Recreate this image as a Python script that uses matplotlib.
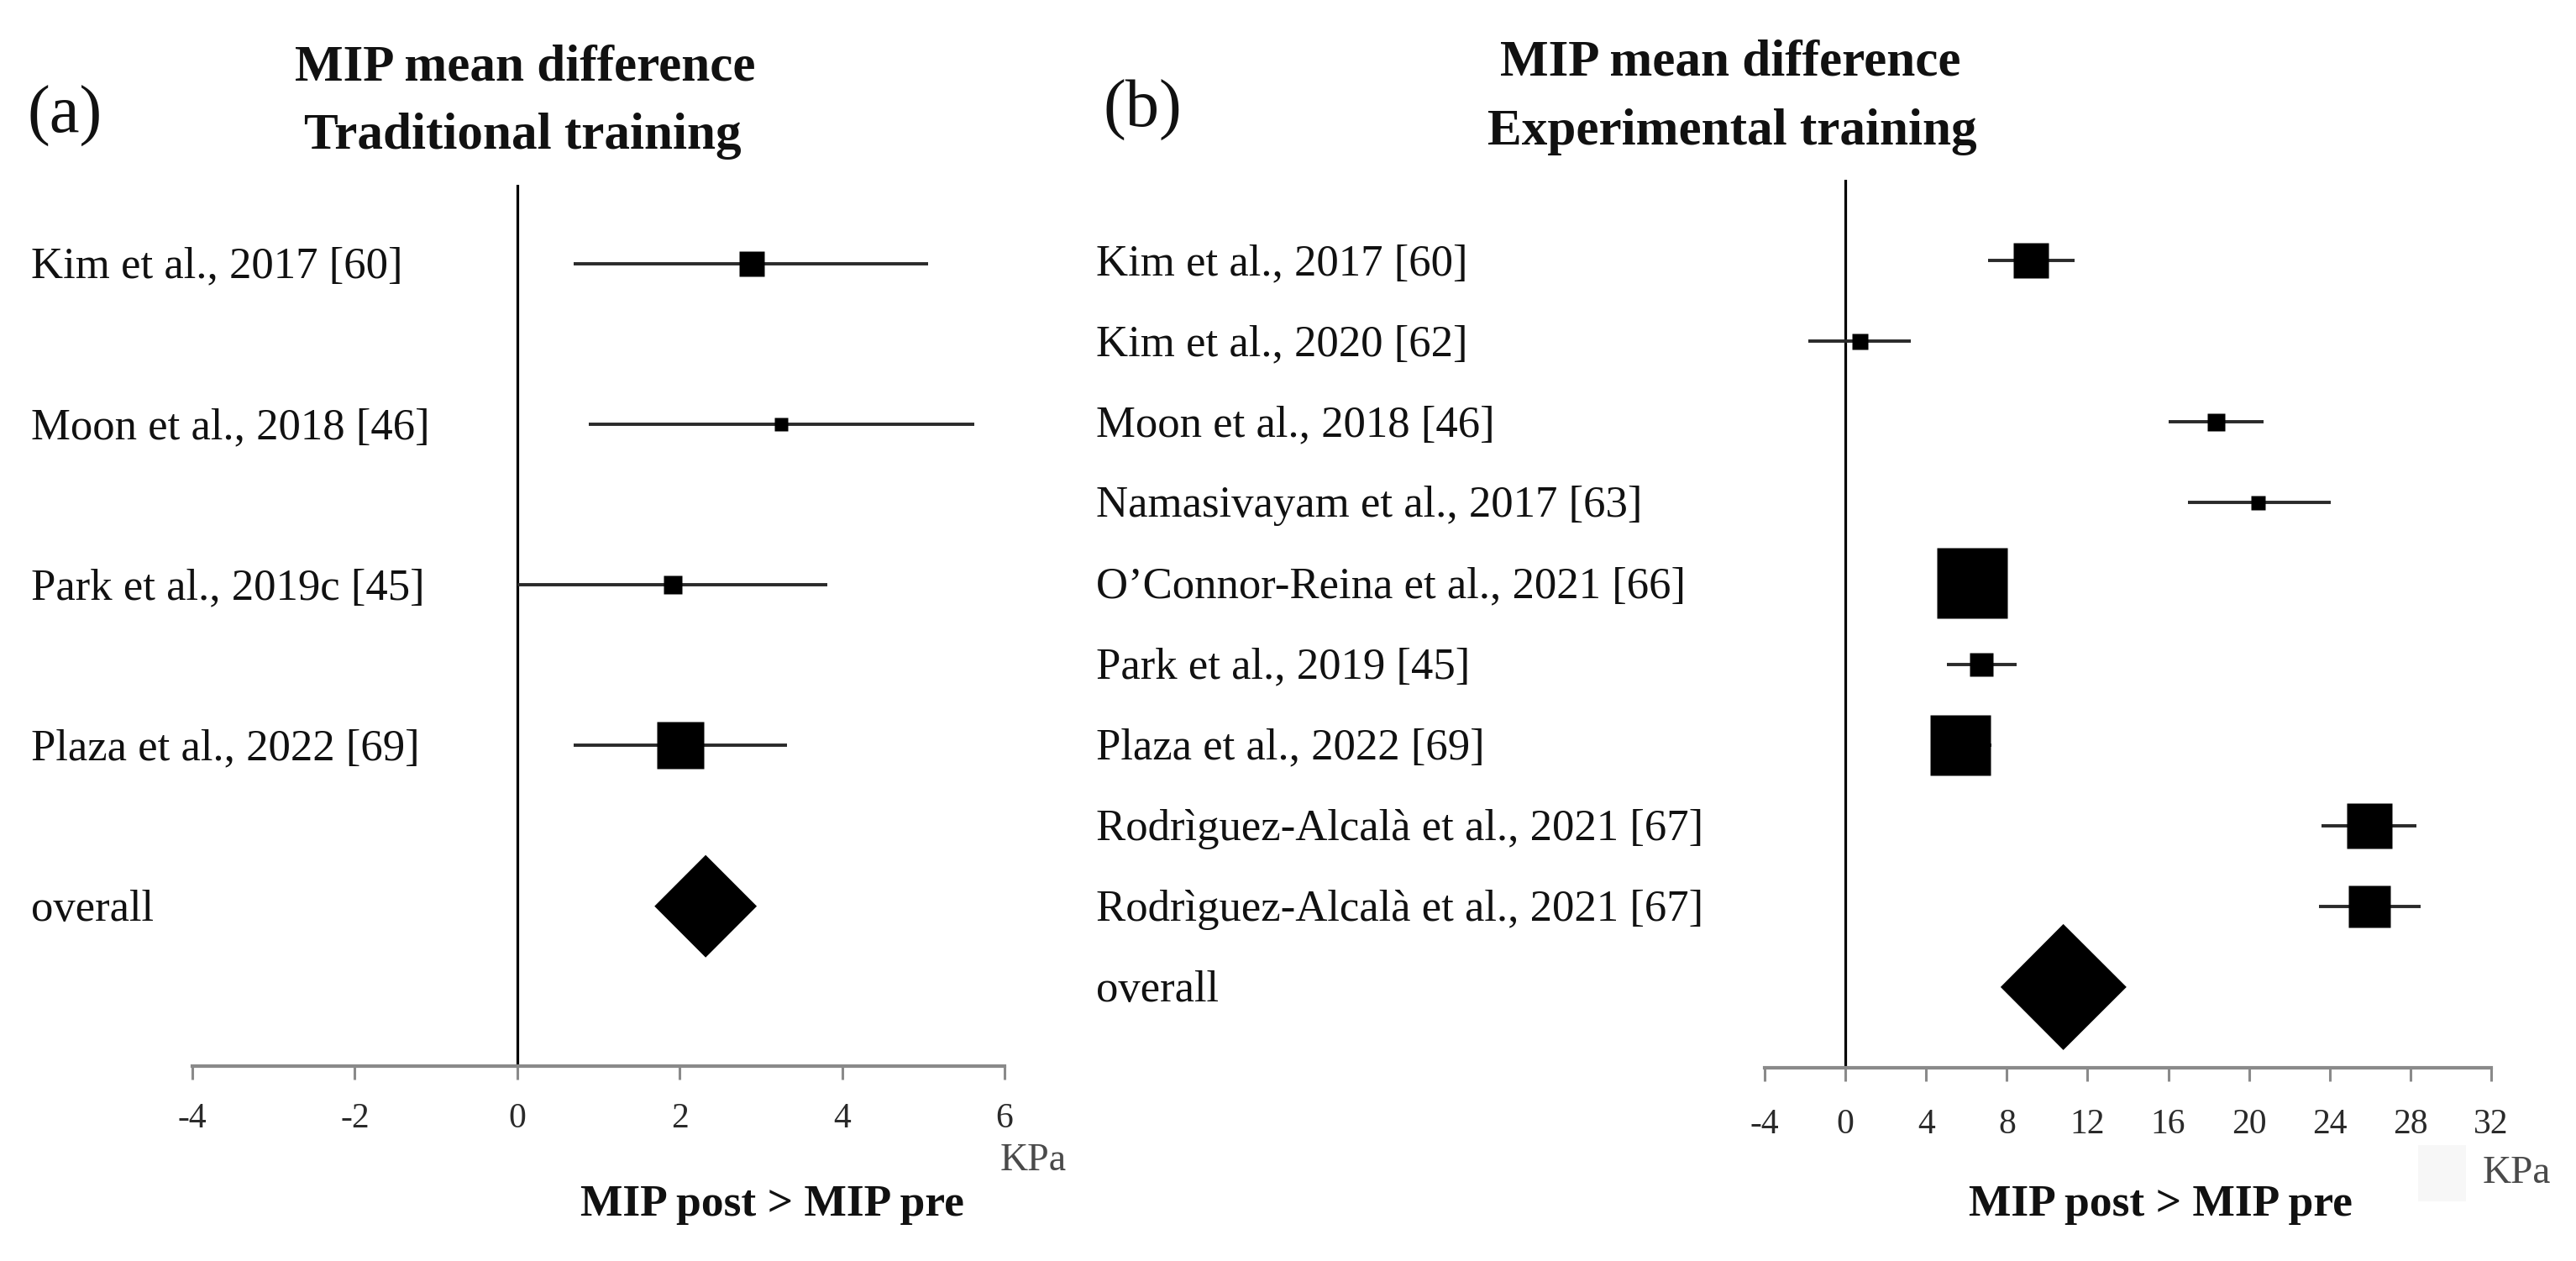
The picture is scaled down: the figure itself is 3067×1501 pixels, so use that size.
import matplotlib
matplotlib.use("Agg")
import matplotlib.pyplot as plt
from matplotlib.patches import Polygon, Rectangle
import matplotlib.transforms as mtransforms

# ---------------- data ----------------
# Panel (a): traditional training
studies_a = ["Kim et al., 2017 [60]", "Moon et al., 2018 [46]",
             "Park et al., 2019c [45]", "Plaza et al., 2022 [69]"]
mean_a = [2.89, 3.25, 1.92, 2.01]
lo_a = [0.70, 0.88, 0.00, 0.70]
hi_a = [5.06, 5.63, 3.82, 3.32]
weight_a = [30, 16, 22, 56]          # relative study weight (box size)
overall_a = [2.32, 1.69, 2.95]      # mean, lower, upper
ticks_a = [-4, -2, 0, 2, 4, 6]

# Panel (b): experimental training
studies_b = ["Kim et al., 2017 [60]", "Kim et al., 2020 [62]",
             "Moon et al., 2018 [46]", "Namasivayam et al., 2017 [63]",
             "O\u2019Connor-Reina et al., 2021 [66]", "Park et al., 2019 [45]",
             "Plaza et al., 2022 [69]", "Rodr\u00ecguez-Alcal\u00e0 et al., 2021 [67]",
             "Rodr\u00ecguez-Alcal\u00e0 et al., 2021 [67]"]
mean_b = [9.2, 0.69, 18.34, 20.44, 6.28, 6.75, 5.69, 25.95, 25.98]
lo_b = [7.05, -1.83, 16.0, 16.96, 5.0, 5.03, 4.4, 23.6, 23.46]
hi_b = [11.34, 3.26, 20.71, 24.05, 7.6, 8.47, 7.25, 28.28, 28.49]
weight_b = [43, 19, 21, 17, 84, 28, 73, 54, 50]
overall_b = [10.8, 7.69, 13.93]
ticks_b = [-4, 0, 4, 8, 12, 16, 20, 24, 28, 32]

# ---------------- figure ----------------
W, H = 3067, 1501
plt.rcParams['font.family'] = ['Liberation Serif', 'DejaVu Serif']
plt.rcParams['axes.unicode_minus'] = False
fig = plt.figure(figsize=(W / 100, H / 100), dpi=100)


def fx(px):
    return px / W


def fy(py):
    return 1 - py / H


AXIS_GREY = '#8a8a8a'
TXT = '#111111'


def panel(x0, x1, ytop, ybot, ylim, ticks, studies, mean, lo, hi, weight,
          overall, diamond_half_px, label_x, tick_pad):
    ax = fig.add_axes([fx(x0), fy(ybot), fx(x1) - fx(x0), (ybot - ytop) / H])
    ax.set_xlim(ticks[0], ticks[-1])
    ax.set_ylim(*ylim)
    for s in ['top', 'right', 'left']:
        ax.spines[s].set_visible(False)
    ax.spines['bottom'].set_color(AXIS_GREY)
    ax.spines['bottom'].set_linewidth(3.0)
    ax.set_yticks([])
    ax.set_xticks(ticks)
    ax.set_xticklabels([str(t) for t in ticks])
    ax.tick_params(axis='x', direction='out', length=11.5, width=2.2,
                   color=AXIS_GREY, labelsize=30, labelcolor='#2a2a2a',
                   pad=tick_pad)
    ax.patch.set_alpha(0)
    ax.axvline(0, color='black', lw=2.3, zorder=2)

    n = len(studies)
    rows = list(range(n))
    ax.hlines(rows, lo, hi, color='#2a2a2a', lw=2.8, zorder=3)
    for i in rows:
        ax.plot(mean[i], i, marker='s', ms=weight[i] * 0.72, color='black',
                mec='none', zorder=4, linestyle='none')
    # diamond for the pooled estimate
    row_px = (ybot - ytop) / abs(ylim[0] - ylim[1])
    h = diamond_half_px / row_px
    m, l, u = overall
    ax.add_patch(Polygon([(l, n), (m, n - h), (u, n), (m, n + h)],
                         closed=True, facecolor='black', edgecolor='none',
                         zorder=4))
    # study labels
    trans = mtransforms.blended_transform_factory(fig.transFigure, ax.transData)
    trans = mtransforms.offset_copy(trans, fig=fig, y=-17 * 0.72, units='points')
    for i, lab in enumerate(list(studies) + ['overall']):
        ax.text(fx(label_x), i, lab, transform=trans, ha='left', va='baseline',
                fontsize=38, color=TXT, clip_on=False)
    return ax


axa = panel(229, 1196, 220, 1269, (4.995, -0.49), ticks_a, studies_a, mean_a,
            lo_a, hi_a, weight_a, overall_a, 61, 37, 19.5)
axb = panel(2101, 2966, 214, 1271, (10.0, -1.0), ticks_b, studies_b, mean_b,
            lo_b, hi_b, weight_b, overall_b, 75, 1305, 23.5)

# titles and panel letters
fig.text(fx(625), fy(95), "MIP mean difference", ha='center', va='baseline',
         fontsize=44, fontweight='bold', color=TXT)
fig.text(fx(622), fy(177), "Traditional training", ha='center', va='baseline',
         fontsize=44, fontweight='bold', color=TXT)
fig.text(fx(2060), fy(90), "MIP mean difference", ha='center', va='baseline',
         fontsize=44, fontweight='bold', color=TXT)
fig.text(fx(2062), fy(172), "Experimental training", ha='center', va='baseline',
         fontsize=44, fontweight='bold', color=TXT)
fig.text(fx(77), fy(138), "(a)", ha='center', va='center', fontsize=58, color=TXT)
fig.text(fx(1360), fy(131), "(b)", ha='center', va='center', fontsize=58, color=TXT)

# unit and axis captions
fig.text(fx(1191), fy(1393), "KPa", ha='left', va='baseline', fontsize=33,
         color='#4a4a4a')
fig.text(fx(2956), fy(1408), "KPa", ha='left', va='baseline', fontsize=34,
         color='#4a4a4a')
fig.text(fx(919), fy(1447), "MIP post > MIP pre", ha='center', va='baseline',
         fontsize=38.5, fontweight='bold', color=TXT)
fig.text(fx(2572), fy(1447), "MIP post > MIP pre", ha='center', va='baseline',
         fontsize=38.5, fontweight='bold', color=TXT)

# faint background patch beside the right "KPa"
fig.patches.append(Rectangle((fx(2879), fy(1430)), fx(2936) - fx(2879),
                             (1430 - 1363) / H, transform=fig.transFigure,
                             facecolor='#f7f7f7', edgecolor='none', zorder=0))

fig.savefig("out.png", dpi=100, facecolor='white')
